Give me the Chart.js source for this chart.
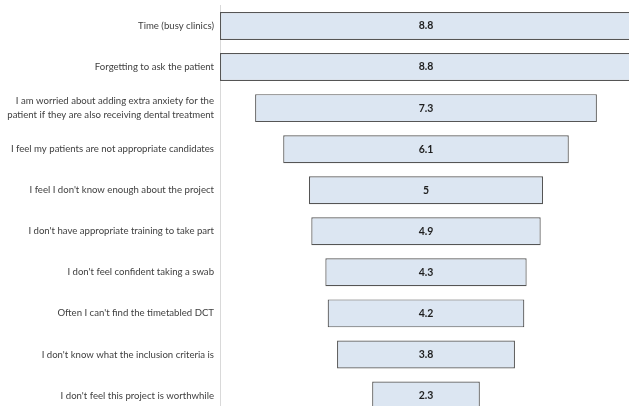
<!DOCTYPE html>
<html>
<head>
<meta charset="utf-8">
<script src="https://cdn.jsdelivr.net/npm/chart.js@4.4.0/dist/chart.umd.min.js"></script>
<style>
  html, body { margin: 0; padding: 0; background: #fff; overflow: hidden; }
  #wrap { position: relative; width: 632px; height: 416px; }
</style>
</head>
<body>
<div id="wrap"><canvas id="funnel"></canvas></div>
<script>
// categories (top to bottom)
const categories = [
  'Time (busy clinics)',
  'Forgetting to ask the patient',
  ['I am worried about adding extra anxiety for the', 'patient if they are also receiving dental treatment'],
  'I feel my patients are not appropriate candidates',
  "I feel I don't know enough about the project",
  "I don't have appropriate training to take part",
  "I don't feel confident taking a swab",
  "Often I can't find the timetabled DCT",
  "I don't know what the inclusion criteria is",
  "I don't feel this project is worthwhile"
];

// scores
const scores = [8.8, 8.8, 7.3, 6.1, 5, 4.9, 4.3, 4.2, 3.8, 2.3];

const maxScore = 8.8;

/**
 * Writes the value in the middle of each bar.
 */
const valueLabels = {
  id: 'valueLabels',
  afterDatasetsDraw(chart) {
    const ctx = chart.ctx;
    const meta = chart.getDatasetMeta(0);
    ctx.save();
    ctx.font = 'bold 10.5px Lato';
    ctx.fillStyle = '#1f1f1f';
    ctx.textAlign = 'center';
    ctx.textBaseline = 'middle';
    meta.data.forEach((bar, i) => {
      ctx.fillText(String(scores[i]), chart.scales.x.getPixelForValue(0), bar.y);
    });
    ctx.restore();
  }
};

function renderFunnel(canvas) {
  return new Chart(canvas, {
    type: 'bar',
    data: {
      labels: categories,
      datasets: [{
        data: scores.map(v => [-v / 2, v / 2]),
        backgroundColor: '#dce6f2',
        borderColor: '#555555',
        borderWidth: 1.2,
        borderSkipped: false,
        categoryPercentage: 0.8,
        barPercentage: 0.85
      }]
    },
    options: {
      indexAxis: 'y',
      responsive: true,
      maintainAspectRatio: false,
      animation: false,
      layout: { padding: { top: 5.5, right: 0, bottom: 0, left: 0 } },
      plugins: {
        legend: { display: false },
        tooltip: { enabled: false }
      },
      scales: {
        x: {
          display: false,
          min: -maxScore / 2,
          max: maxScore / 2
        },
        y: {
          grid: { display: false, drawTicks: false },
          border: { display: true, color: '#d9d9d9', width: 1 },
          ticks: {
            padding: 6,
            color: '#404040',
            font: { family: 'Lato', size: 9.6, lineHeight: 1.45 }
          },
          afterFit: (scale) => {
            scale.width = 220;
            scale.paddingTop = 0;
            scale.paddingBottom = 0;
          }
        }
      }
    },
    plugins: [valueLabels]
  });
}

renderFunnel(document.getElementById('funnel'));
</script>
</body>
</html>
